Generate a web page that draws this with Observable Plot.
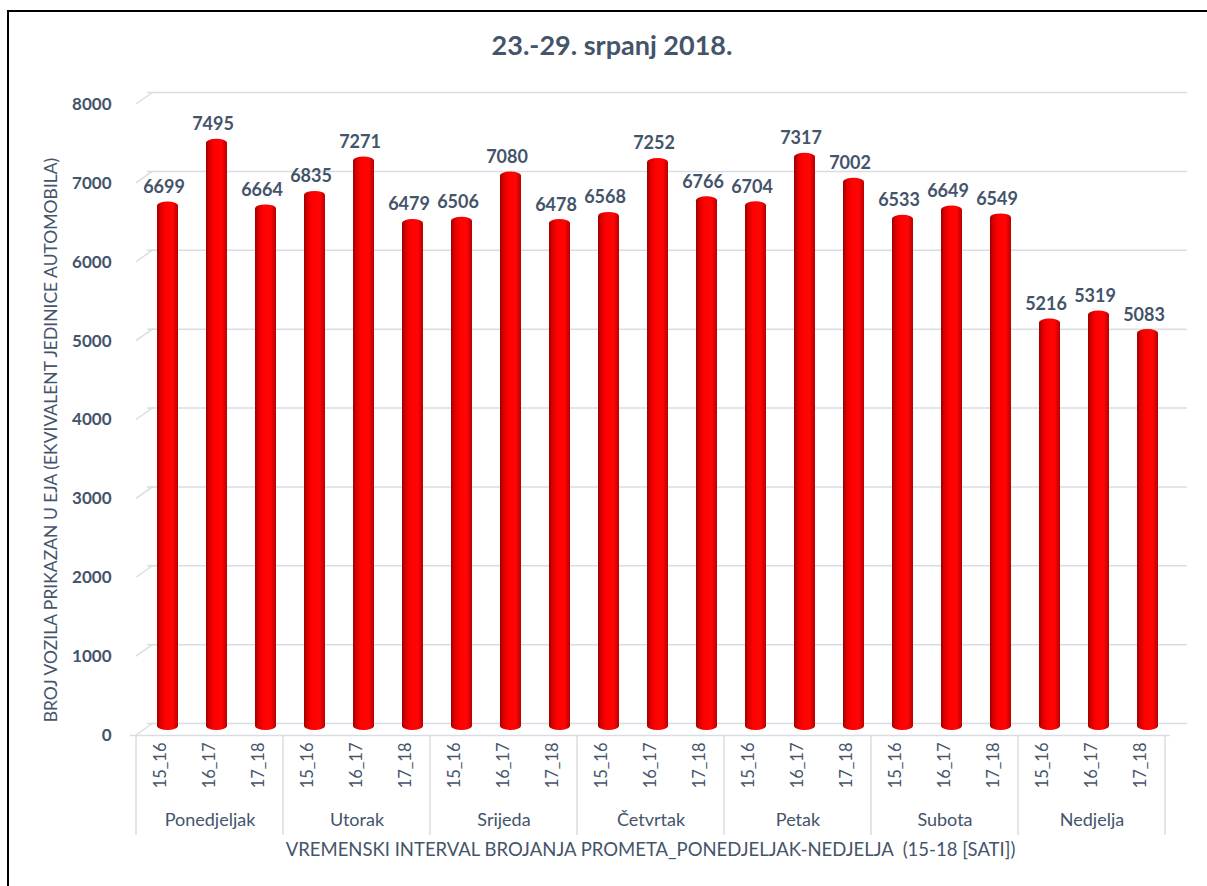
<!DOCTYPE html>
<html><head><meta charset="utf-8">
<script src="https://cdn.jsdelivr.net/npm/d3@7"></script>
<script src="https://cdn.jsdelivr.net/npm/@observablehq/plot@0.6"></script>
<style>
body{margin:0;background:#fff;font-family:Lato,"Open Sans",sans-serif;}
#wrap{position:relative;width:1207px;height:886px;overflow:hidden;}
#border{position:absolute;left:7px;top:10px;width:1220px;height:900px;border-left:2px solid #000;border-top:2px solid #000;}
#title{position:absolute;left:0;width:1224px;top:28px;text-align:center;font-weight:bold;font-size:27px;color:#44546a;font-family:Lato,sans-serif;}
#chart{position:absolute;left:0;top:0;}
</style></head>
<body>
<div id="wrap">
  <div id="border"></div>
  <div id="title">23.-29. srpanj 2018.</div>
  <div id="chart"></div>
</div>
<script>
const days = ["Ponedjeljak","Utorak","Srijeda","Četvrtak","Petak","Subota","Nedjelja"];
const intervals = ["15_16","16_17","17_18"];
const v15_16 = [6699,6835,6506,6568,6704,6533,5216];
const v16_17 = [7495,7271,7080,7252,7317,6649,5319];
const v17_18 = [6664,6479,6478,6766,7002,6549,5083];
const yTicks = [0,1000,2000,3000,4000,5000,6000,7000,8000];
const yLabel = "BROJ VOZILA PRIKAZAN U EJA (EKVIVALENT JEDINICE AUTOMOBILA)";
const xLabel = "VREMENSKI INTERVAL BROJANJA PROMETA_PONEDJELJAK-NEDJELJA  (15-18 [SATI])";

const series = {"15_16": v15_16, "16_17": v16_17, "17_18": v17_18};
const rows = [];
days.forEach((d, i) => intervals.forEach(iv => rows.push({day: d, interval: iv, key: d + "|" + iv, value: series[iv][i]})));
const keys = rows.map(r => r.key);

const textColor = "#44546a";
const gridColor = "#d9dde3";

const chart = Plot.plot({
  width: 1207, height: 886,
  marginLeft: 130, marginRight: 37, marginTop: 104, marginBottom: 151,
  style: {fontFamily: "Lato, 'Open Sans', sans-serif", color: textColor, background: "transparent"},
  x: {type: "band", domain: keys, padding: 0, axis: null},
  y: {domain: [0, 8000], axis: null},
  marks: [
    Plot.ruleY(yTicks, {stroke: gridColor, strokeWidth: 1.5, dx: 17, dy: -12}),
    Plot.ruleY([0], {stroke: gridColor, strokeWidth: 1.5}),
    Plot.barY(rows, {x: "key", y: "value", fill: "url(#cyl)", insetLeft: 14, insetRight: 14, rx: 11, ry: 4, dx: 7, dy: -5}),
    Plot.text(rows, {x: "key", y: "value", text: d => String(d.value), dy: -14, dx: 3, lineAnchor: "bottom", fontSize: 18, fontWeight: "bold", fill: textColor}),
    Plot.axisY({ticks: yTicks, tickSize: 0, tickPadding: 19, fontSize: 17, fontWeight: "bold", tickFormat: d => String(d), label: null}),
    Plot.axisX({tickSize: 0, tickPadding: 7, tickRotate: -90, tickFormat: k => k.split("|")[1], fontSize: 16.5, label: null}),
    Plot.text(days, {x: d => d + "|16_17", frameAnchor: "bottom", dy: 90, text: d => d, fontSize: 18, fill: textColor}),
    Plot.text([yLabel], {frameAnchor: "left", dx: -79, dy: 20, rotate: -90, textAnchor: "middle", text: d => d, fontSize: 17.5, fill: textColor}),
    Plot.text([xLabel], {frameAnchor: "bottom", dy: 120, textAnchor: "middle", text: d => d, fontSize: 18.5, fill: textColor})
  ]
});

const svg = d3.select(chart);
const grad = svg.insert("defs", ":first-child").append("linearGradient").attr("id", "cyl").attr("x1", 0).attr("x2", 1).attr("y1", 0).attr("y2", 0);
[[0, "#9a0000"], [0.15, "#d80000"], [0.38, "#ff0000"], [0.75, "#ff0505"], [1, "#b80000"]].forEach(([o, c]) => grad.append("stop").attr("offset", o).attr("stop-color", c));

const xs = chart.scale("x"), ys = chart.scale("y");
const y0 = ys.apply(0);
const bounds = days.map(d => xs.apply(d + "|15_16"));
bounds.push(xs.apply(days[days.length - 1] + "|17_18") + xs.bandwidth);
const g = svg.append("g").attr("stroke", gridColor).attr("stroke-width", 1.5);
bounds.forEach(bx => g.append("line").attr("x1", bx).attr("x2", bx).attr("y1", y0).attr("y2", y0 + 100));
const left = bounds[0];
yTicks.forEach(t => g.append("line").attr("x1", left).attr("y1", ys.apply(t)).attr("x2", left + 17).attr("y2", ys.apply(t) - 12));

document.getElementById("chart").appendChild(chart);
</script>
</body></html>
